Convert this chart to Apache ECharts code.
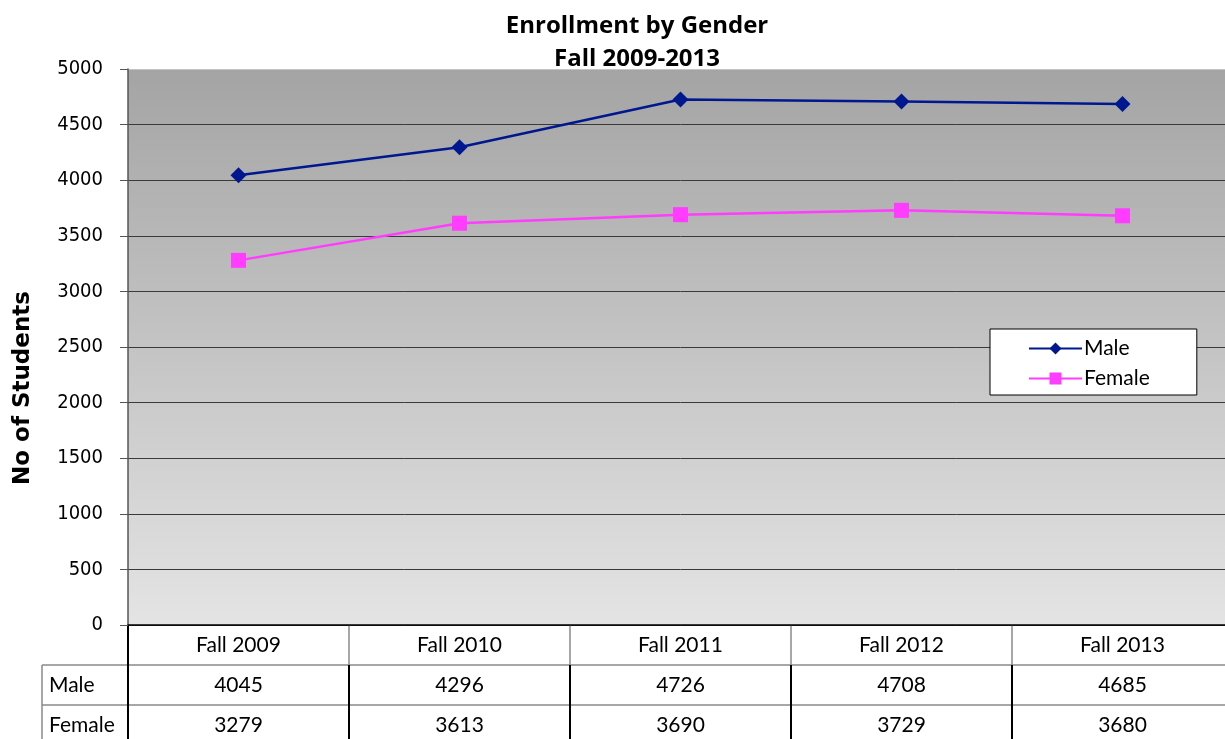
<!DOCTYPE html>
<html>
<head>
<meta charset="utf-8">
<script src="https://cdn.jsdelivr.net/npm/echarts@6/dist/echarts.min.js"></script>
<style>
  html, body { margin: 0; padding: 0; background: #fff; overflow: hidden; }
  /* the plot runs a few pixels past the right edge of the page */
  #chart { width: 1240px; height: 739px; }
</style>
</head>
<body>
<div id="chart"></div>
<script>
// Enrollment headcount by gender, fall terms
const categories = ['Fall 2009', 'Fall 2010', 'Fall 2011', 'Fall 2012', 'Fall 2013'];
const maleValues = [4045, 4296, 4726, 4708, 4685];
const femaleValues = [3279, 3613, 3690, 3729, 3680];
const seriesNames = ['Male', 'Female'];
const titleLines = ['Enrollment by Gender', 'Fall 2009-2013'];
const yAxisTitle = 'No of Students';

const MALE_COLOR = '#00188f';
const FEMALE_COLOR = '#ff3cff';
const TABLE_FONT = 'Lato, "Open Sans", sans-serif';

const chart = echarts.init(document.getElementById('chart'), null, { renderer: 'canvas' });

const gridLineColors = [];
for (let i = 0; i < 11; i++) gridLineColors.push(i === 10 ? '#c4c4c4' : '#3a3a3a');

const option = {
  animation: false,
  backgroundColor: '#ffffff',
  title: {
    text: titleLines.join('\n'),
    left: 632, textAlign: 'center', top: 5,
    textStyle: { fontFamily: '"Open Sans", Lato, sans-serif', fontWeight: 'bold', fontSize: 24, lineHeight: 33, color: '#000' }
  },
  grid: {
    left: 128, top: 69, right: 7, bottom: 114,
    show: true, borderWidth: 0,
    backgroundColor: new echarts.graphic.LinearGradient(0, 0, 0, 1, [
      { offset: 0, color: '#a4a4a4' },
      { offset: 1, color: '#e4e4e4' }
    ])
  },
  legend: {
    data: seriesNames,
    orient: 'vertical',
    left: 990, top: 329,
    padding: [9, 47, 6, 38],
    itemGap: 9,
    itemWidth: 53, itemHeight: 15,
    backgroundColor: '#ffffff',
    borderColor: '#000000', borderWidth: 1,
    textStyle: { fontFamily: TABLE_FONT, fontSize: 21, color: '#000', padding: [0, 0, 0, -3] }
  },
  xAxis: {
    type: 'category',
    data: categories,
    boundaryGap: true,
    axisLine: { show: true, lineStyle: { color: '#000', width: 1.5 } },
    axisTick: { show: false },
    axisLabel: { show: false },
    splitLine: { show: false }
  },
  yAxis: {
    type: 'value',
    min: 0, max: 5000, interval: 500,
    axisLine: { show: true, lineStyle: { color: '#555', width: 1.5 } },
    axisTick: { show: true, length: 8, lineStyle: { color: '#555' } },
    axisLabel: {
      margin: 25, color: '#000',
      formatter: v => String(v),
      fontFamily: '"DejaVu Sans Condensed", "DejaVu Sans", sans-serif', fontSize: 20
    },
    splitLine: { show: true, lineStyle: { color: gridLineColors, width: 1 } }
  },
  series: [
    {
      name: seriesNames[0], type: 'line', data: maleValues,
      symbol: 'diamond', symbolSize: 16,
      lineStyle: { color: MALE_COLOR, width: 2.5 },
      itemStyle: { color: MALE_COLOR }
    },
    {
      name: seriesNames[1], type: 'line', data: femaleValues,
      symbol: 'rect', symbolSize: 15,
      lineStyle: { color: FEMALE_COLOR, width: 2.5 },
      itemStyle: { color: FEMALE_COLOR }
    }
  ]
};
chart.setOption(option);

// Data table beneath the plot, laid out from the category axis scale
function buildTable() {
  const elements = [];
  const zeroY = chart.convertToPixel({ yAxisIndex: 0 }, 0);
  const rowH = 40;
  const rowTops = [zeroY, zeroY + rowH, zeroY + 2 * rowH];
  const centers = categories.map((c, i) => chart.convertToPixel({ xAxisIndex: 0 }, i));
  const band = centers.length > 1 ? centers[1] - centers[0] : 200;
  const leftEdge = centers[0] - band / 2;
  const rightEdge = centers[centers.length - 1] + band / 2;
  const labelColLeft = 42;
  const bottom = 739 + 10;

  // horizontal rules
  [rowTops[1], rowTops[2]].forEach(y => {
    elements.push({ type: 'line', shape: { x1: labelColLeft, y1: y, x2: rightEdge, y2: y },
      style: { stroke: '#8a8a8a', lineWidth: 1.5 }, silent: true });
  });
  // label column border
  elements.push({ type: 'line', shape: { x1: labelColLeft, y1: rowTops[1], x2: labelColLeft, y2: bottom },
    style: { stroke: '#8a8a8a', lineWidth: 1.5 }, silent: true });

  // vertical column dividers
  for (let i = 0; i <= centers.length; i++) {
    const x = leftEdge + i * band;
    elements.push({ type: 'line', shape: { x1: x, y1: rowTops[0], x2: x, y2: rowTops[1] },
      style: { stroke: i === 0 ? '#000' : '#8a8a8a', lineWidth: i === 0 ? 2 : 1.5 }, silent: true });
    elements.push({ type: 'line', shape: { x1: x, y1: rowTops[1], x2: x, y2: bottom },
      style: { stroke: '#000', lineWidth: 2 }, silent: true });
  }

  const rows = [categories, maleValues, femaleValues];
  rows.forEach((vals, r) => {
    vals.forEach((v, i) => {
      elements.push({ type: 'text', x: centers[i], y: rowTops[r] + rowH / 2,
        style: { text: String(v), fontFamily: TABLE_FONT, fontSize: 21, fill: '#000',
          textAlign: 'center', textVerticalAlign: 'middle' }, silent: true });
    });
  });
  seriesNames.forEach((name, r) => {
    elements.push({ type: 'text', x: labelColLeft + 7, y: rowTops[r + 1] + rowH / 2,
      style: { text: name, fontFamily: TABLE_FONT, fontSize: 21, fill: '#000',
        textAlign: 'left', textVerticalAlign: 'middle' }, silent: true });
  });

  // vertical axis title
  elements.push({ type: 'text', x: 23, y: 388, rotation: Math.PI / 2,
    style: { text: yAxisTitle, fontFamily: '"DejaVu Sans", sans-serif', fontWeight: 'bold',
      fontSize: 23, fill: '#000', textAlign: 'center', textVerticalAlign: 'middle' }, silent: true });

  chart.setOption({ graphic: elements });
}
buildTable();
</script>
</body>
</html>
